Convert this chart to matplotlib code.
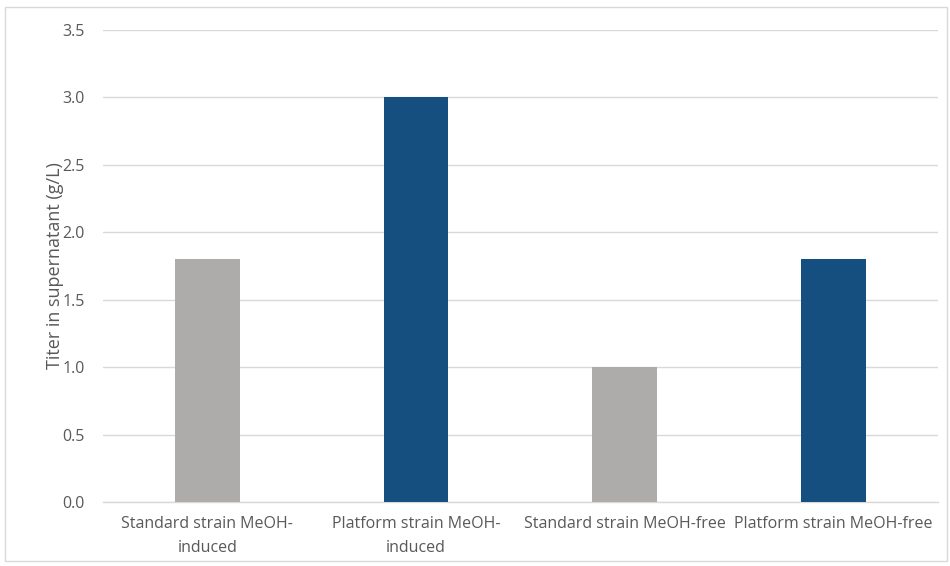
import matplotlib.pyplot as plt
import numpy as np
from matplotlib.patches import Rectangle

categories = ["Standard strain MeOH-\ninduced", "Platform strain MeOH-\ninduced",
              "Standard strain MeOH-free", "Platform strain MeOH-free"]
titers = [1.8, 3.0, 1.0, 1.8]
bar_colors = ["#AEABAB", "#154F80", "#AEABAB", "#154F80"]
yticks = [0.0, 0.5, 1.0, 1.5, 2.0, 2.5, 3.0, 3.5]

plt.rcParams['font.family'] = ['Open Sans', 'DejaVu Sans']

fig = plt.figure(figsize=(9.5, 5.66), dpi=100, facecolor='white')
ax = fig.add_axes([0.1084, 0.113, 0.8786, 0.834])

x = np.arange(len(categories))
ax.bar(x, titers, width=0.31, color=bar_colors, zorder=3)

ax.set_xlim(-0.5, len(categories) - 0.5)
ax.set_ylim(0, 3.5)
ax.set_yticks(yticks)
ax.set_yticklabels([f"{v:.1f}" for v in yticks], fontsize=11.5, color='#595959')
ax.set_xticks(x)
ax.set_xticklabels(categories, fontsize=11.5, color='#595959', linespacing=1.7)
ax.tick_params(axis='x', length=0, pad=10)
ax.tick_params(axis='y', length=0, pad=13)

ax.grid(axis='y', color='#D9D9D9', linewidth=1, zorder=0)
for s in ['top', 'right', 'left']:
    ax.spines[s].set_visible(False)
ax.spines['bottom'].set_color('#D9D9D9')
ax.spines['bottom'].set_linewidth(1)

ax.set_ylabel("Titer in supernatant (g/L)", fontsize=13, color='#595959', labelpad=-1)

# thin frame around the whole chart
fig.patches.append(Rectangle((0.005, 0.008), 0.992, 0.98, transform=fig.transFigure,
                             fill=False, edgecolor='#D9D9D9', linewidth=1))

fig.savefig("out.png", dpi=100, facecolor='white')
